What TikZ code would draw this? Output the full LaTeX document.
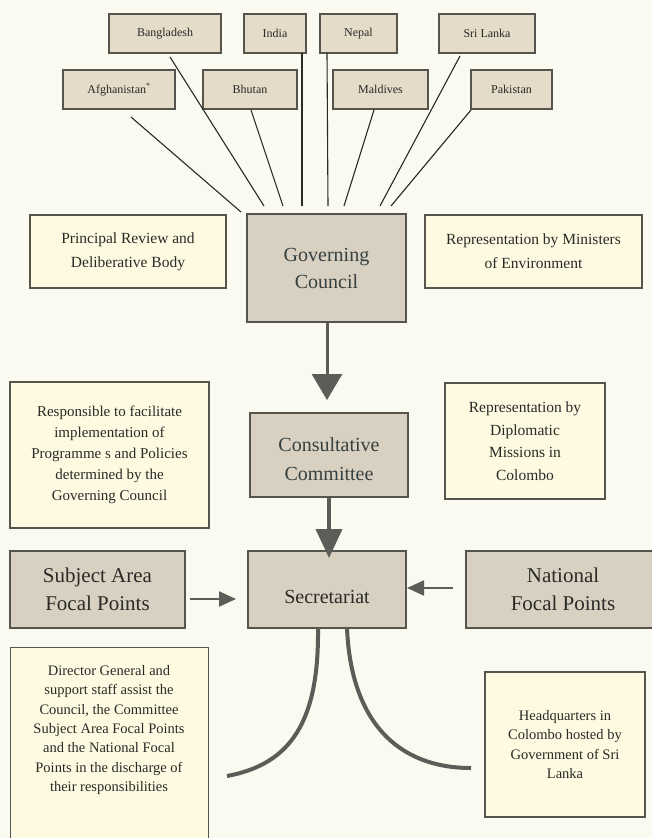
\documentclass[tikz,border=0pt]{standalone}
\usepackage{fontspec}
\setmainfont{Liberation Serif}
\usetikzlibrary{arrows.meta,calc}
\definecolor{paper}{HTML}{FBFAF1}
\definecolor{tanbox}{HTML}{D8D0C1}
\definecolor{ctybox}{HTML}{E4DBC8}
\definecolor{palebox}{HTML}{FDFAE1}
\definecolor{edgec}{HTML}{55554D}
\definecolor{inkc}{HTML}{2A2A26}
\definecolor{slatec}{HTML}{36403E}
\definecolor{arrc}{HTML}{5C5C58}
\begin{document}
\begin{tikzpicture}[x=1pt,y=-1pt,
  box/.style={draw=edgec, line width=1.3pt, inner sep=0pt, align=center, text=inkc},
  cty/.style={box, fill=ctybox, minimum height=39pt, font=\fontsize{12}{14}\selectfont},
  dark/.style={box, fill=tanbox, text=slatec, font=\fontsize{20}{27}\selectfont},
  focal/.style={box, fill=tanbox, font=\fontsize{21}{28}\selectfont},
  pale/.style={box, fill=palebox, font=\fontsize{15.5}{24}\selectfont},
  txt/.style={align=center, inner sep=0pt, text=inkc},
  cline/.style={draw=inkc, line width=1.1pt},
  bigarrow/.style={draw=arrc, line width=3pt, -{Triangle[width=30pt,length=26pt]}},
  sidearrow/.style={draw=arrc, line width=2pt, -{Triangle[width=15pt,length=17pt]}},
  curve/.style={draw=arrc, line width=4pt}]

\fill[paper] (0,0) rectangle (652,838);
\useasboundingbox (0,0) rectangle (652,838);
\clip (0,0) rectangle (652,838);

% country boxes
\node[cty, minimum width=112pt] (ban) at (165,33.5) {Bangladesh};
\node[cty, minimum width=62pt]  (ind) at (275,33.5) {India};
\node[cty, minimum width=77pt]  (nep) at (358.5,33.5) {Nepal};
\node[cty, minimum width=96pt]  (sri) at (487,33.5) {Sri Lanka};
\node[cty, minimum width=112pt] (afg) at (119,89.5) {Afghanistan\textsuperscript{*}};
\node[cty, minimum width=94pt]  (bhu) at (250,89.5) {Bhutan};
\node[cty, minimum width=95pt]  (mal) at (380.5,89.5) {Maldives};
\node[cty, minimum width=81pt]  (pak) at (511.5,89.5) {Pakistan};

% main boxes
\node[dark, minimum width=159pt, minimum height=108pt] (gc) at (326.5,268) {Governing\\Council};
\node[pale, minimum width=196pt, minimum height=73pt] (prb) at (128,251.5) {Principal Review and\\Deliberative Body};
\node[pale, minimum width=217pt, minimum height=73pt] (rme) at (533.5,251.5) {Representation by Ministers\\of Environment};

\node[dark, minimum width=158pt, minimum height=84pt, font=\fontsize{20}{29}\selectfont] (cc) at (329,455) {\rule{0pt}{22pt}Consultative\\Committee};
\node[pale, minimum width=199pt, minimum height=146pt, font=\fontsize{15}{21}\selectfont] (rsp) at (109.5,455) {Responsible to facilitate\\implementation of\\Programme s and Policies\\determined by the\\Governing Council};
\node[pale, minimum width=160pt, minimum height=116pt, font=\fontsize{15.5}{22.5}\selectfont] (dip) at (525,441) {Representation by\\Diplomatic\\Missions in\\Colombo};

\node[focal, minimum width=175pt, minimum height=77pt] (sub) at (97.5,589.5) {Subject Area\\Focal Points};
\node[dark, minimum width=158pt, minimum height=77pt, text height=28pt, text depth=0pt, text=inkc] (sec) at (327,589.5) {Secretariat};
\node[focal, minimum width=194pt, minimum height=77pt] (nat) at (563,589.5) {National\\Focal Points};

\node[pale, minimum width=198pt, minimum height=203pt, anchor=north west] (dg) at (10,647) {};
\node[txt, font=\fontsize{14.5}{19.3}\selectfont] (dgt) at (109,730) {Director General and\\support staff assist the\\Council, the Committee\\Subject Area Focal Points\\and the National Focal\\Points in the discharge of\\their responsibilities};
\node[pale, minimum width=160pt, minimum height=145pt, font=\fontsize{14.5}{19.3}\selectfont] (hq) at (565,744.5) {Headquarters in\\Colombo hosted by\\Government of Sri\\Lanka};

% country connectors
\coordinate (afgA) at (131,117); \coordinate (afgB) at (241,212);
\coordinate (banA) at (170,57);  \coordinate (banB) at (264,206);
\coordinate (bhuA) at (251,110); \coordinate (bhuB) at (283,206);
\coordinate (indA) at (302,53);  \coordinate (indB) at (302,206);
\coordinate (nepA) at (327,53);  \coordinate (nepB) at (328,206);
\coordinate (malA) at (374,110); \coordinate (malB) at (344,206);
\coordinate (sriA) at (460,56);  \coordinate (sriB) at (380,206);
\coordinate (pakA) at (471,110); \coordinate (pakB) at (391,206);
\foreach \c in {afg,ban,bhu,ind,nep,mal,sri,pak}{\draw[cline] (\c A) -- (\c B);}

% arrows
\coordinate (gcTip) at (327,400);
\draw[bigarrow] (gc.south -| gcTip) -- (gcTip);
\coordinate (ccTip) at (329,558);
\draw[bigarrow, line width=4pt, -{Triangle[width=26pt,length=29pt]}] (cc.south) -- (ccTip);
\coordinate (subA) at (190,599); \coordinate (subB) at (236,599);
\draw[sidearrow] (subA) -- (subB);
\coordinate (natA) at (453,588); \coordinate (natB) at (407,588);
\draw[sidearrow] (natA) -- (natB);

% curves from Secretariat
\coordinate (cl) at (318,628); \coordinate (cr) at (347,628);
\coordinate (clEnd) at (227,776); \coordinate (crEnd) at (471,768);
\draw[curve] (cl) .. controls (319,720) and (292,764) .. (clEnd);
\draw[curve] (cr) .. controls (351,722) and (398,768) .. (crEnd);
\end{tikzpicture}
\end{document}
